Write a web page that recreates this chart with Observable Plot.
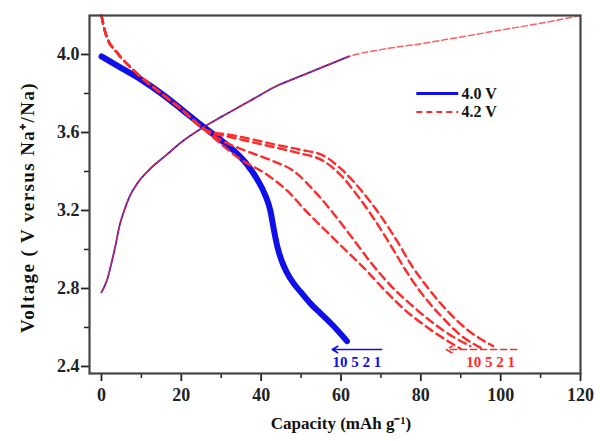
<!DOCTYPE html>
<html><head><meta charset="utf-8">
<script src="https://cdn.jsdelivr.net/npm/d3@7"></script>
<script src="https://cdn.jsdelivr.net/npm/@observablehq/plot@0.6"></script>
<style>
body{margin:0;background:#fff}
svg{font-family:"Liberation Serif","Times New Roman",serif}
</style></head>
<body><div id="chart"></div>
<script>
// 4.0 V cut-off: charge (thin) and discharge (thick, rates 10,5,2,1 overlapping)
const charge40X = [0,0.5,1.5,2.5,3.5,4.5,5.7,7,9,12,16,20,25,30,37,44,50,56,62];
const charge40Y = [2.78,2.80,2.85,2.93,3.02,3.12,3.20,3.27,3.34,3.41,3.48,3.55,3.62,3.68,3.76,3.84,3.89,3.94,3.99];
const dis40X = [0,5,10,15,20,25.5,30,33,36.3,39,41,42.3,43.2,44,45,46.5,48,50,52.5,55,58,61.5];
const dis40Y = [3.99,3.93,3.87,3.80,3.72,3.63,3.56,3.51,3.44,3.36,3.28,3.20,3.10,3.02,2.95,2.88,2.83,2.78,2.72,2.67,2.61,2.53];
// 4.2 V cut-off charge
const charge42X = [0,0.5,1.5,2.5,3.5,4.5,5.7,7,9,12,16,20,25,30,37,44,50,56,62,70,80,90,100,110,120];
const charge42Y = [2.78,2.80,2.85,2.93,3.02,3.12,3.20,3.27,3.34,3.41,3.48,3.55,3.62,3.68,3.76,3.84,3.89,3.94,3.99,4.025,4.055,4.09,4.125,4.16,4.20];
// 4.2 V discharge at rates 1, 2, 5, 10
const disHeadX = [0,0.5,1.5,3.5,8.5,15,20,25.5];
const disHeadY = [4.20,4.15,4.08,4.02,3.91,3.80,3.72,3.62];
const dis42_1X = [28,31.7,37.9,43.3,49.5,55.8,60.7,65.2,69.9,74.0,77.7,81.9,86.9,92.3,98.1];
const dis42_1Y = [3.60,3.59,3.564,3.539,3.513,3.479,3.40,3.30,3.173,3.045,2.918,2.80,2.68,2.578,2.505];
const dis42_2X = [28,31.5,37.8,43.2,49.3,55.5,60,64,68.5,72.5,76,80,85,90,95.5];
const dis42_2Y = [3.595,3.58,3.55,3.525,3.495,3.455,3.38,3.28,3.15,3.02,2.90,2.78,2.66,2.56,2.49];
const dis42_5X = [30,36.3,42.5,48.3,53.3,58.3,62.8,67.4,72.4,77.7,82.7,88.1,92.4];
const dis42_5Y = [3.56,3.505,3.457,3.40,3.30,3.18,3.06,2.935,2.816,2.714,2.629,2.552,2.505];
const dis42_10X = [30,35,41,46.6,51.2,56.2,61,66,71,76,81,86,90];
const dis42_10Y = [3.54,3.46,3.39,3.30,3.198,3.096,3.00,2.90,2.79,2.69,2.61,2.54,2.49];
const rates = ["1","2","5","10"];
const rateLabel = "10 5 2 1";
const legendLabels = ["4.0 V","4.2 V"];
const xTicks = [0,20,40,60,80,100,120];
const yTicks = [2.4,2.8,3.2,3.6,4.0];

const zip = (xs, ys) => xs.map((x,i)=>({x, y: ys[i]}));
const disSets = [[dis42_1X,dis42_1Y],[dis42_2X,dis42_2Y],[dis42_5X,dis42_5Y],[dis42_10X,dis42_10Y]];
const red42 = disSets.flatMap(([xs,ys],k)=>
  zip(disHeadX,disHeadY).concat(zip(xs,ys)).map(d=>({...d, rate: rates[k]})));

const blue = "#1010e8", red = "#ff2a2a";
const curve = "monotone-x";

const plot = Plot.plot({
  width: 600, height: 441,
  marginLeft: 89, marginRight: 20, marginTop: 15, marginBottom: 68,
  x: {domain: [-3, 120]},
  y: {domain: [2.364, 4.2]},
  style: {fontFamily: "Liberation Serif", fontSize: "18px", fontWeight: "bold", color: "#222"},
  marks: [
    Plot.axisX(xTicks, {tickSize: 8, tickPadding: 7, label: null, fontSize: 18, fontWeight: "bold", strokeWidth: 1.8}),
    Plot.axisX(d3.range(10,120,20), {tickSize: 5, text: null, label: null, strokeWidth: 1.5}),
    Plot.axisY(yTicks, {tickSize: 8, tickPadding: 2, label: null, tickFormat: d3.format(".1f"), fontSize: 18, fontWeight: "bold", strokeWidth: 1.8}),
    Plot.axisY(d3.range(2.6,4.2,0.4), {tickSize: 5, text: null, label: null, strokeWidth: 1.5}),
    // 4.0 V discharge (thick, overlapping rates)
    Plot.line(zip(dis40X, dis40Y), {x:"x", y:"y", stroke: blue, strokeWidth: 6, curve}),
    // 4.0 V charge
    Plot.line(zip(charge40X, charge40Y), {x:"x", y:"y", stroke: "#2a1ad0", strokeWidth: 1.8, curve}),
    // 4.2 V charge
    Plot.line(zip(charge42X, charge42Y), {x:"x", y:"y", stroke: red, strokeWidth: 1.5, strokeDasharray: "6,3", strokeOpacity: 0.75, curve}),
    // 4.2 V discharges
    Plot.line(red42, {x:"x", y:"y", z:"rate", stroke: red, strokeWidth: 2.4, strokeDasharray: "8,5", curve}),
    // rate arrows
    Plot.arrow([{x1:70.2, x2:57.8, y:2.487}], {x1:"x1", x2:"x2", y1:"y", y2:"y", stroke: blue, strokeWidth: 1.6, headLength: 6}),
    Plot.text([rateLabel], {x: 64, y: 2.42, text: d=>d, fill: blue, fontSize: 15, fontWeight: "bold"}),
    Plot.arrow([{x1:104, x2:86.4, y:2.487}], {x1:"x1", x2:"x2", y1:"y", y2:"y", stroke: red, strokeWidth: 1.6, strokeDasharray: "6,4", headLength: 6}),
    Plot.text([rateLabel], {x: 97.5, y: 2.42, text: d=>d, fill: red, fontSize: 15, fontWeight: "bold"}),
    // legend
    Plot.ruleY([3.80], {x1: 79, x2: 89.5, stroke: blue, strokeWidth: 3}),
    Plot.text([legendLabels[0]], {x: 90.2, y: 3.80, text: d=>d, textAnchor: "start", fontSize: 16, fontWeight: "bold", fill: "#111"}),
    Plot.ruleY([3.705], {x1: 79, x2: 89.5, stroke: red, strokeWidth: 1.8, strokeDasharray: "6,4"}),
    Plot.text([legendLabels[1]], {x: 90.2, y: 3.705, text: d=>d, textAnchor: "start", fontSize: 16, fontWeight: "bold", fill: "#111"}),
    Plot.frame({stroke: "#444", strokeWidth: 2.2}),
    Plot.text(["Capacity (mAh g\u207B\u00B9)"], {frameAnchor: "bottom", dx: 6, dy: 55, text: d=>d, fontSize: 17, fontWeight: "bold", fill: "#111"}),
    Plot.text(["Voltage ( V versus Na\u207A/Na)"], {frameAnchor: "left", textAnchor: "middle", dx: -62, dy: 13, rotate: -90, text: d=>d, fontSize: 19, fontWeight: "bold", fill: "#111", className: "ytitle"})
  ]
});
plot.querySelectorAll(".ytitle text").forEach(t => t.style.letterSpacing = "1.4px");
document.getElementById("chart").appendChild(plot);
</script></body></html>
